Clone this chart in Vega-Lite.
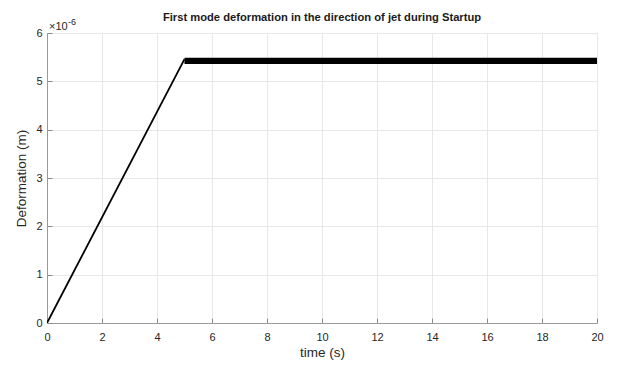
{
  "$schema": "https://vega.github.io/schema/vega-lite/v6.json",
  "width": 550,
  "height": 290,
  "autosize": {"type": "none"},
  "padding": {"left": 47, "top": 33, "right": 25, "bottom": 44},
  "background": "white",
  "config": {
    "font": "Liberation Sans",
    "view": {"stroke": "#9a9a9a", "strokeWidth": 1},
    "axis": {
      "domainColor": "#9a9a9a",
      "tickColor": "#8a8a8a",
      "gridColor": "#e8e8e8",
      "labelColor": "#262626",
      "titleColor": "#262626",
      "labelFont": "Liberation Sans",
      "titleFont": "Liberation Sans",
      "labelFontSize": 11,
      "titleFontSize": 13.5,
      "titleFontWeight": "normal"
    }
  },
  "title": {
    "text": "First mode deformation in the direction of jet during Startup",
    "font": "Liberation Sans",
    "fontSize": 11.2,
    "fontWeight": "bold",
    "color": "#1a1a1a",
    "anchor": "middle",
    "offset": -5
  },
  "datasets": {
    "ramp": [
      {"t": 0, "d": 0},
      {"t": 5.0, "d": 5.46}
    ],
    "band": [
      {"t0": 5.0, "t1": 20, "lo": 5.36, "hi": 5.49}
    ],
    "expo": [
      {"t": 0, "d": 6, "base": "×10", "sup": "-6"}
    ]
  },
  "layer": [
    {
      "data": {"name": "ramp"},
      "mark": {"type": "line", "color": "black", "strokeWidth": 1.8, "clip": true},
      "encoding": {
        "x": {
          "field": "t", "type": "quantitative",
          "scale": {"domain": [0, 20], "nice": false, "zero": false},
          "axis": {"values": [0,2,4,6,8,10,12,14,16,18,20], "title": "time (s)", "grid": true, "tickSize": -5, "labelPadding": 13, "titlePadding": 3, "labelFlush": false}
        },
        "y": {
          "field": "d", "type": "quantitative",
          "scale": {"domain": [0, 6], "nice": false, "zero": false},
          "axis": {"values": [0,1,2,3,4,5,6], "title": "Deformation (m)", "grid": true, "tickSize": -5, "labelPadding": 10, "titlePadding": 7, "labelFlush": false}
        }
      }
    },
    {
      "data": {"name": "band"},
      "mark": {"type": "rect", "color": "black"},
      "encoding": {
        "x": {"field": "t0", "type": "quantitative"},
        "x2": {"field": "t1"},
        "y": {"field": "lo", "type": "quantitative"},
        "y2": {"field": "hi"}
      }
    },
    {
      "data": {"name": "expo"},
      "mark": {"type": "text", "align": "left", "baseline": "alphabetic", "dx": 2, "dy": -3, "fontSize": 11, "color": "#262626", "font": "Liberation Sans"},
      "encoding": {
        "x": {"field": "t", "type": "quantitative"},
        "y": {"field": "d", "type": "quantitative"},
        "text": {"field": "base"}
      }
    },
    {
      "data": {"name": "expo"},
      "mark": {"type": "text", "align": "left", "baseline": "alphabetic", "dx": 21, "dy": -8, "fontSize": 9, "color": "#262626", "font": "Liberation Sans"},
      "encoding": {
        "x": {"field": "t", "type": "quantitative"},
        "y": {"field": "d", "type": "quantitative"},
        "text": {"field": "sup"}
      }
    }
  ]
}
